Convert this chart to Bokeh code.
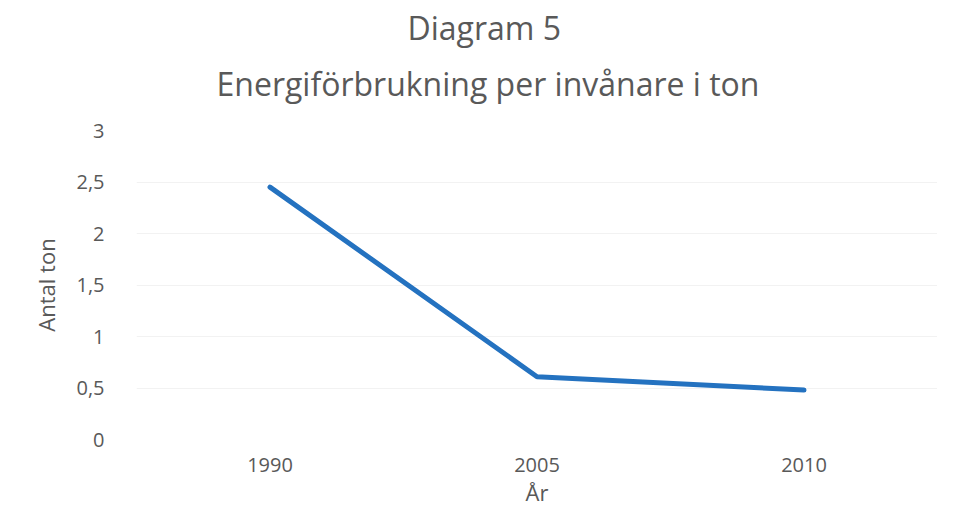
from bokeh.plotting import figure
from bokeh.models import Title, FixedTicker, Range1d
from bokeh.embed import file_html
from bokeh.resources import INLINE

years = ["1990", "2005", "2010"]
values = [2.45, 0.61, 0.48]
y_ticks = [0, 0.5, 1, 1.5, 2, 2.5, 3]
y_tick_labels = ["0", "0,5", "1", "1,5", "2", "2,5", "3"]
title_lines = ["Diagram 5", "Energiförbrukning per invånare i ton"]

FONT = "Open Sans"
GREY = "#595959"

p = figure(x_range=years, y_range=Range1d(0, 3), width=937, height=509,
           output_backend="svg", toolbar_location=None,
           min_border_left=136, min_border_right=0, min_border_top=130, min_border_bottom=66)
p.outline_line_color = None

p.line(years, values, line_width=5, line_color="#2472c0", line_cap="round", line_join="round")

# titles: the later one added sits further from the plot; left-aligned with an
# offset so that they are centred on the whole chart, as in the original
p.add_layout(Title(text=title_lines[1], align="left", offset=80,
                   text_font=FONT, text_font_size="32px", text_font_style="normal",
                   text_color=GREY, standoff=52, text_line_height=1.0), "above")
p.add_layout(Title(text=title_lines[0], align="left", offset=271,
                   text_font=FONT, text_font_size="32px", text_font_style="normal",
                   text_color=GREY, standoff=-30, text_line_height=1.0), "above")

p.yaxis.ticker = FixedTicker(ticks=y_ticks)
p.yaxis.major_label_overrides = {t: l for t, l in zip(y_ticks, y_tick_labels)}
for ax in (p.xaxis[0], p.yaxis[0]):
    ax.axis_line_color = None
    ax.major_tick_line_color = None
    ax.minor_tick_line_color = None
    ax.major_label_text_font = FONT
    ax.major_label_text_font_size = "20px"
    ax.major_label_text_color = GREY
    ax.axis_label_text_font = FONT
    ax.axis_label_text_font_size = "22px"
    ax.axis_label_text_font_style = "normal"
    ax.axis_label_text_color = GREY

p.yaxis.axis_label = "Antal ton"
p.xaxis.axis_label = "År"
p.yaxis.major_label_standoff = 26
p.xaxis.major_label_standoff = 12
p.yaxis.axis_label_standoff = 12
p.xaxis.axis_label_standoff = 2

p.xgrid.grid_line_color = None
p.ygrid.grid_line_color = "#f2f2f2"
p.ygrid.grid_line_width = 1

open("out.html", "w").write(file_html(p, INLINE))
